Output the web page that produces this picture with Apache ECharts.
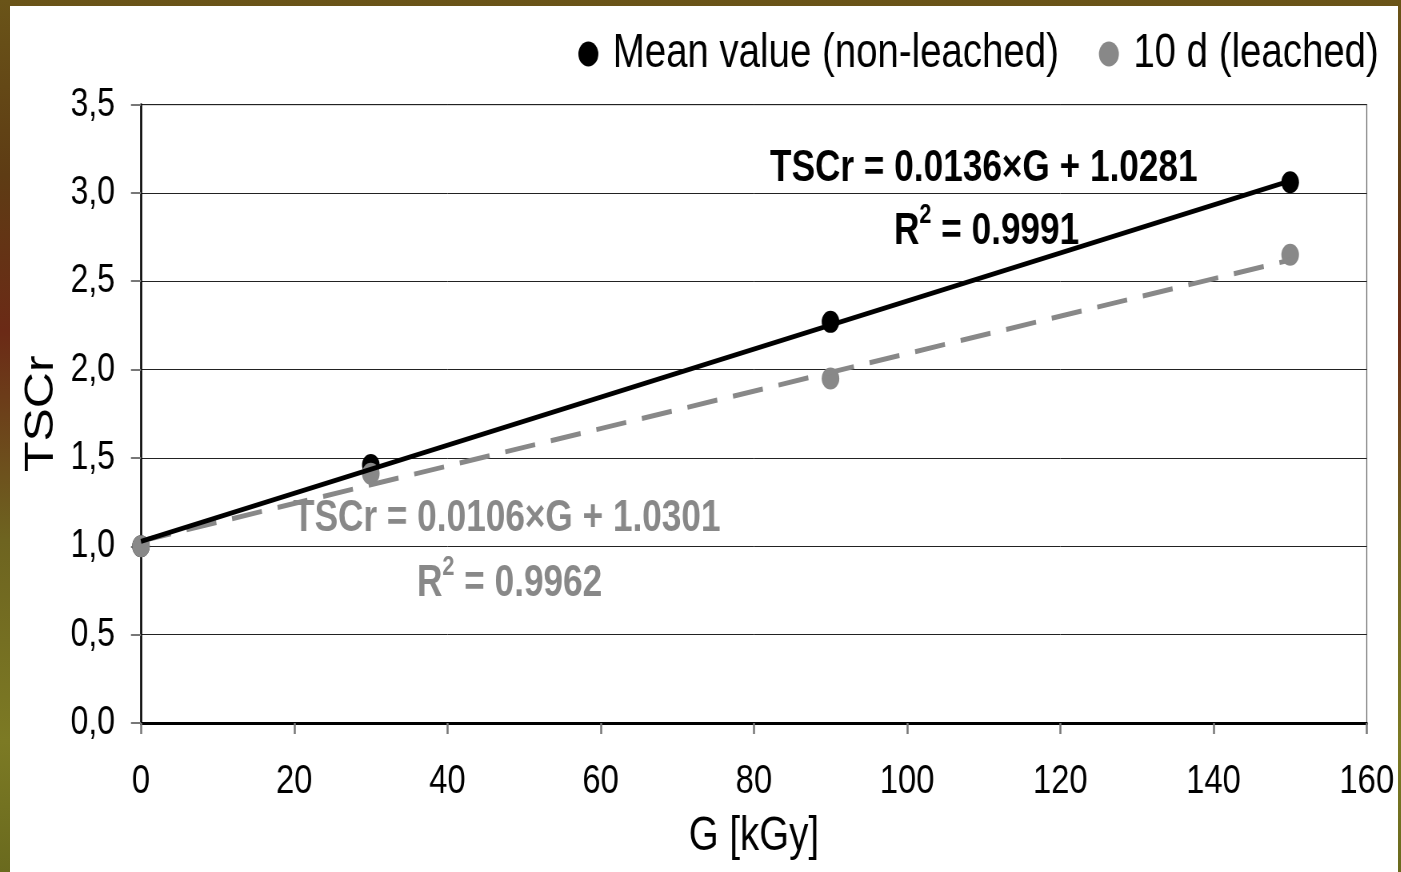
<!DOCTYPE html>
<html><head><meta charset="utf-8">
<script src="https://cdn.jsdelivr.net/npm/echarts@6/dist/echarts.min.js"></script>
<style>
html,body{margin:0;padding:0;width:1401px;height:872px;overflow:hidden;}
body{background:linear-gradient(180deg,#6a5418 0%,#5e3c14 20%,#6b2a16 38%,#6e6420 62%,#7c7a24 85%,#6a6a1e 100%);}
#panel{position:absolute;left:10px;top:6px;width:1388px;height:866px;background:#fff;}
#main{position:absolute;left:0;top:0;width:1751.25px;height:872px;transform:scaleX(0.8);transform-origin:0 0;}
</style></head>
<body><div id="panel"></div><div id="main"></div>
<script>
const FONT = "'Liberation Sans',Arial,sans-serif";
const seriesNames = ['Mean value (non-leached)', '10 d (leached)'];
const doseG = [0, 30, 90, 150];
const meanNonLeached = [1.0, 1.46, 2.27, 3.06];
const leached10d = [1.0, 1.41, 1.95, 2.65];
const trendMean = [[0, 1.0281], [150, 3.0681]];
const trendLeached = [[0, 1.0301], [150, 2.6201]];
const eqMean = ['TSCr = 0.0136×G + 1.0281', '0.9991'];
const eqLeached = ['TSCr = 0.0106×G + 1.0301', '0.9962'];

const SX = 0.8; // horizontal condensing of the whole drawing
const px = v => v / SX;
const BLACK = '#000', GRAY = '#888';

const chart = echarts.init(document.getElementById('main'), null, {renderer:'canvas'});
const pairs = (xs, ys) => xs.map((x, i) => [x, ys[i]]);
const r2 = (val, color) => ({
  text:'{b|R}{s|2}{b| = ' + val + '}',
  rich:{
    b:{fontFamily:FONT,fontWeight:'bold',fontSize:44,lineHeight:60,fill:color},
    s:{fontFamily:FONT,fontWeight:'bold',fontSize:27,lineHeight:27,verticalAlign:'top',fill:color}
  }
});
chart.setOption({
  backgroundColor:'transparent',
  animation:false,
  grid:{left:px(141),right:px(34),top:104.5,bottom:149,show:true,borderColor:'#666',borderWidth:1.25},
  legend:{
    right:px(18),top:25,itemGap:px(40),icon:'circle',itemWidth:25,itemHeight:25,
    textStyle:{fontFamily:FONT,fontSize:48,lineHeight:48,color:'#000',padding:[0,0,0,13]},
    data:seriesNames
  },
  xAxis:{
    type:'value',min:0,max:160,interval:20,
    name:'G [kGy]',nameLocation:'middle',nameGap:90,
    nameTextStyle:{fontFamily:FONT,fontSize:48,color:'#000'},
    axisLine:{show:true,onZero:false,lineStyle:{color:'#000',width:3}},
    axisTick:{show:true,length:11,lineStyle:{color:'#777',width:2.5}},
    axisLabel:{margin:38,fontFamily:FONT,fontSize:41,color:'#000'},
    splitLine:{show:false}
  },
  yAxis:{
    type:'value',min:0,max:3.5,interval:0.5,
    name:'TSCr',nameLocation:'middle',nameGap:83,
    nameTextStyle:{fontFamily:FONT,fontSize:50,color:'#000'},
    axisLine:{show:true,lineStyle:{color:'#000',width:2.5}},
    axisTick:{show:true,length:px(10),lineStyle:{color:'#777',width:2}},
    axisLabel:{margin:px(26),fontFamily:FONT,fontSize:40,color:'#000',
      formatter:v=>v.toFixed(1).replace('.',',')},
    splitLine:{show:true,lineStyle:{color:'#222',width:1}}
  },
  series:[
    {name:seriesNames[0],type:'scatter',data:pairs(doseG,meanNonLeached),symbol:'circle',symbolSize:22,
      itemStyle:{color:BLACK,opacity:1},z:3},
    {name:seriesNames[1],type:'scatter',data:pairs(doseG,leached10d),symbol:'circle',symbolSize:22,
      itemStyle:{color:GRAY,opacity:1},z:4},
    {name:'trendLeached',type:'line',data:trendLeached,showSymbol:false,symbol:'none',
      lineStyle:{color:GRAY,width:5,type:[38,20]},z:5},
    {name:'trendMean',type:'line',data:trendMean,showSymbol:false,symbol:'none',
      lineStyle:{color:BLACK,width:5},z:6}
  ],
  graphic:[
    {type:'text',left:px(770),top:147,z:10,style:{text:eqMean[0],font:"bold 44px "+FONT,fill:BLACK}},
    {type:'text',left:px(894),top:202,z:10,style:r2(eqMean[1],BLACK)},
    {type:'text',left:px(293),top:497,z:10,style:{text:eqLeached[0],font:"bold 44px "+FONT,fill:GRAY}},
    {type:'text',left:px(417),top:554,z:10,style:r2(eqLeached[1],GRAY)}
  ]
});
</script></body></html>
